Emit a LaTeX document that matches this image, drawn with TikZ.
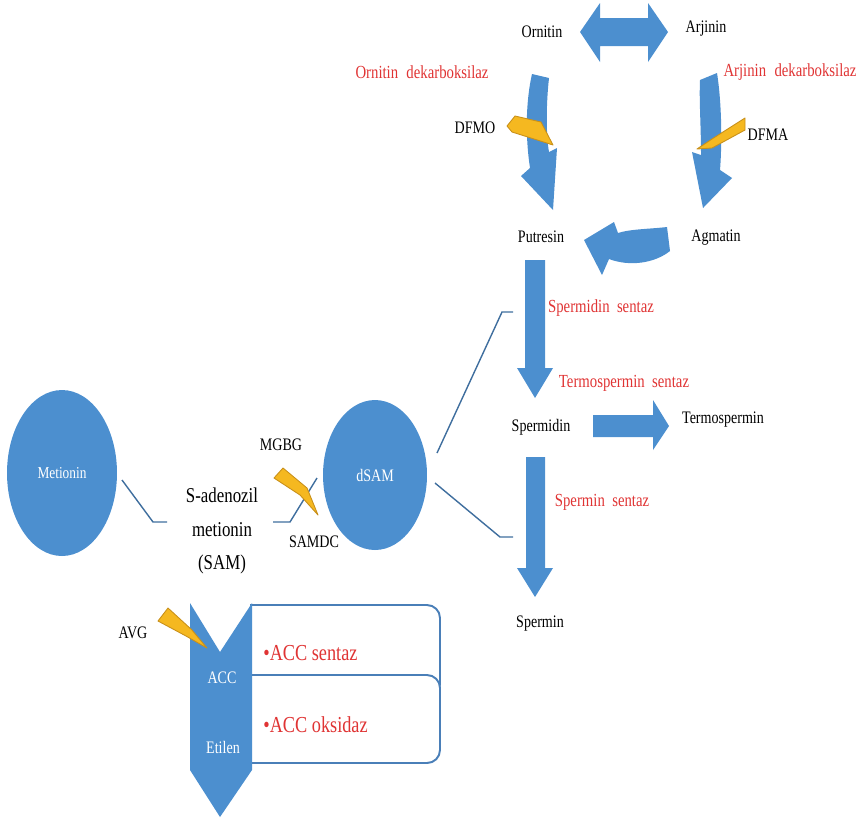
\documentclass[tikz,border=0pt]{standalone}
\usepackage{fontspec}
\setmainfont{Liberation Serif}[FakeStretch=0.8]
\usetikzlibrary{shapes.geometric}
\definecolor{arrblue}{HTML}{4C8FCF}
\definecolor{linblue}{HTML}{3F6E9E}
\definecolor{wedgey}{HTML}{F5B820}
\definecolor{wedgeo}{HTML}{C8901A}
\definecolor{txtred}{HTML}{E03434}
\definecolor{boxline}{HTML}{4A7FB8}
\begin{document}
\begin{tikzpicture}[x=0.02cm,y=-0.02cm,
  lbl/.style={font=\fontsize{10}{12}\selectfont, inner sep=0pt},
  wlbl/.style={font=\fontsize{10}{12}\selectfont, inner sep=0pt, text=white},
  redlbl/.style={font=\fontsize{10.5}{12}\selectfont, text=txtred, inner sep=0pt},
  boxlbl/.style={font=\fontsize{13}{15}\selectfont, text=txtred, inner sep=0pt, anchor=west},
  samlbl/.style={font=\fontsize{12}{19.3}\selectfont, inner sep=0pt, align=center},
  blockarrow/.style={fill=arrblue, draw=none},
  wedgest/.style={fill=wedgey, draw=wedgeo, line width=0.5pt, line join=round},
  conn/.style={draw=linblue, line width=0.8pt},
  bubble/.style={ellipse, fill=arrblue, draw=none, inner sep=0pt, text=white,
                 font=\fontsize{9.5}{12}\selectfont},
  roundbox/.style={draw=boxline, line width=1.1pt, fill=white, rounded corners=0.26cm}]
\useasboundingbox (0,0) rectangle (857,819);

% ---------- top cycle ----------
\node[lbl] (orn) at (542,32) {Ornitin};
\node[lbl] (arj) at (706,29) {Arjinin};
\fill[blockarrow] (580,32) -- (600,3) -- (600,18) -- (648,18) -- (648,3) -- (668,32)
  -- (648,62) -- (648,46) -- (600,46) -- (600,62) -- cycle;

\node[redlbl] (odc) at (422,72) {Ornitin\hspace{0.45em}dekarboksilaz};
\node[redlbl] (adc) at (790,72) {Arjinin\hspace{0.45em}dekarboksilaz};

% left curved arrow (Ornitin -> Putresin)
\fill[blockarrow] (532,74) -- (549,78) .. controls (546,105) and (546,135) .. (549,152)
  -- (557,148) -- (553,210) -- (521,176) -- (530,168)
  .. controls (525,135) and (526,100) .. (532,74) -- cycle;
% right curved arrow (Arjinin -> Agmatin)
\fill[blockarrow] (700,80) -- (717,73) .. controls (722,105) and (722,145) .. (720,170)
  -- (732,178) -- (703,208) -- (692,152) -- (701,155)
  .. controls (701,125) and (699,100) .. (700,80) -- cycle;
% bottom curved arrow (Agmatin -> Putresin)
\fill[blockarrow] (667,227) .. controls (650,229) and (630,229) .. (618,233)
  -- (614,222) -- (584,240) -- (602,275) -- (609,259)
  .. controls (630,267) and (655,263) .. (670,251) -- cycle;

\node[lbl] (dfmo) at (475,128) {DFMO};
\node[lbl] (dfma) at (768,135) {DFMA};
\draw[wedgest] (507,126) -- (515,116) -- (541,122) -- (553,145) -- (512,132) -- cycle;
\draw[wedgest] (745,118) -- (745,130) -- (712,148) -- (697,149) -- (712,139) -- cycle;

\node[lbl] (put) at (541,237) {Putresin};
\node[lbl] (agm) at (716,238) {Agmatin};

% ---------- spermidine branch ----------
\fill[blockarrow] (525,260) -- (545,260) -- (545,368) -- (553,368) -- (535,398)
  -- (517,368) -- (525,368) -- cycle;
\node[redlbl] (sds) at (601,308) {Spermidin\hspace{0.4em}sentaz};
\node[redlbl] (tss) at (624,383) {Termospermin\hspace{0.4em}sentaz};
\node[lbl] (spd) at (541,427) {Spermidin};
\fill[blockarrow] (593,415) -- (653,415) -- (653,400) -- (669,426) -- (653,450)
  -- (653,437) -- (593,437) -- cycle;
\node[lbl] (tsp) at (723,420) {Termospermin};
\fill[blockarrow] (526,457) -- (545,457) -- (545,568) -- (553,568) -- (535,597)
  -- (517,568) -- (526,568) -- cycle;
\node[redlbl] (sms) at (602,502) {Spermin\hspace{0.4em}sentaz};
\node[lbl] (spm) at (540,624) {Spermin};

% ---------- methionine / SAM ----------
\node[bubble, minimum width=2.2cm, minimum height=3.32cm] (met) at (62,473) {Metionin};
\node[bubble, minimum width=2.08cm, minimum height=3.0cm, font=\fontsize{10}{12}\selectfont] (dsam) at (375,475) {dSAM};
\node[samlbl] (sam) at (222,531) {S-adenozil\\metionin\\(SAM)};
\node[lbl] (mgbg) at (281,445) {MGBG};
\node[lbl] (samdc) at (314,542) {SAMDC};

\coordinate (c1) at (122,480);
\coordinate (c2) at (153,522);
\coordinate (c3) at (167,522);
\coordinate (c4) at (273,522);
\coordinate (c5) at (290,522);
\coordinate (c6) at (317,478);
\draw[conn] (c1) -- (c2) -- (c3);
\draw[conn] (c4) -- (c5) -- (c6);
\draw[wedgest] (274,478) -- (283,468) -- (307,488) -- (318,515) -- (300,495) -- cycle;

\coordinate (d1) at (437,453);
\coordinate (d2) at (502,312);
\coordinate (d3) at (513,312);
\coordinate (d4) at (435,483);
\coordinate (d5) at (500,537);
\coordinate (d6) at (513,537);
\draw[conn] (d1) -- (d2) -- (d3);
\draw[conn] (d4) -- (d5) -- (d6);

% ---------- ACC / ethylene ----------
\draw[roundbox] (250,605) -- (440,605) -- (440,697) -- (250,697);
\draw[roundbox] (250,675) -- (440,675) -- (440,763) -- (250,763);
\fill[blockarrow] (190,603) -- (220,652) -- (252,603) -- (252,770) -- (220,817)
  -- (190,770) -- cycle;
\node[wlbl] (acc) at (222,678) {ACC};
\node[wlbl] (eti) at (223,747) {Etilen};
\node[boxlbl] (accs) at (263,653) {•ACC sentaz};
\node[boxlbl] (acco) at (263,725) {•ACC oksidaz};
\node[lbl] (avg) at (133,633) {AVG};
\draw[wedgest] (158,621) -- (168,608) -- (192,630) -- (207,648) -- (186,636) -- cycle;
\end{tikzpicture}
\end{document}
